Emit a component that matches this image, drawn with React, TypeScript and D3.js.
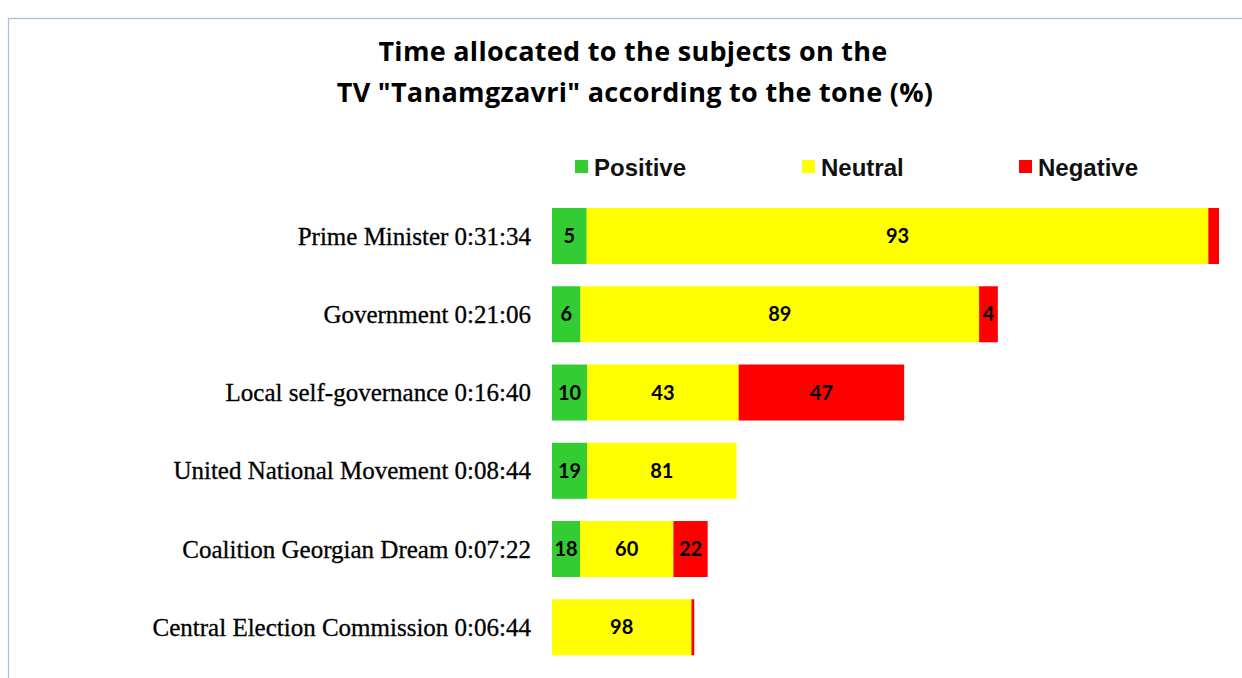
import React, { useRef, useEffect } from 'react';
import * as d3 from 'd3';

// subjects and their total airtime
const categories = [
  'Prime Minister',
  'Government',
  'Local self-governance',
  'United National Movement',
  'Coalition Georgian Dream',
  'Central Election Commission',
];
const durations = ['0:31:34', '0:21:06', '0:16:40', '0:08:44', '0:07:22', '0:06:44'];

// share of the airtime by tone (%)
const positive = [5.2, 6.4, 10, 19, 18, 0];
const neutral = [93.2, 89.4, 43, 81, 60, 98];
const negative = [1.6, 4.2, 47, 0, 22, 2];

const seriesNames = ['Positive', 'Neutral', 'Negative'];
const seriesColors = ['#33cc33', '#ffff00', '#ff0000'];

const width = 1242;
const height = 678;

const toSeconds = (t: string) => {
  const [h, m, s] = t.split(':').map(Number);
  return h * 3600 + m * 60 + s;
};

const App = () => {
  const container = useRef<SVGSVGElement | null>(null);

  useEffect(() => {
    if (!container.current) return;
    const svg = d3.select(container.current);
    svg.selectAll('*').remove();

    svg.append('rect').attr('width', width).attr('height', height).attr('fill', '#fff');

    // chart frame (only top and left edges are inside the picture)
    svg.append('rect')
      .attr('x', 8.5).attr('y', 18.5)
      .attr('width', width).attr('height', height)
      .attr('fill', 'none')
      .attr('stroke', '#a9c0dc')
      .attr('stroke-width', 1.3);

    // title
    const title = svg.append('text')
      .attr('text-anchor', 'middle')
      .style('font-family', '"Open Sans", sans-serif')
      .style('font-weight', 'bold')
      .style('font-size', '27px')
      .style('letter-spacing', '0.3px')
      .attr('fill', '#000');
    title.append('tspan').attr('x', 633).attr('y', 61).text('Time allocated to the subjects on the');
    title.append('tspan').attr('x', 635).attr('y', 102).text('TV "Tanamgzavri" according to the tone (%)');

    // legend
    const legendX = [575, 802, 1019];
    const legend = svg.append('g');
    seriesNames.forEach((name, i) => {
      legend.append('rect')
        .attr('x', legendX[i]).attr('y', 160)
        .attr('width', 13).attr('height', 13)
        .attr('fill', seriesColors[i]);
      legend.append('text')
        .attr('x', legendX[i] + 19).attr('y', 176)
        .style('font-family', '"Liberation Sans", Arial, sans-serif')
        .style('font-weight', 'bold')
        .style('font-size', '24px')
        .attr('fill', '#111')
        .text(name);
    });

    const seconds = durations.map(toSeconds);

    const x = d3.scaleLinear()
      .domain([0, d3.max(seconds) as number])
      .range([552, 1219]);

    const y = d3.scaleBand<string>()
      .domain(categories)
      .range([196.9, 666.4])
      .paddingInner(0.284)
      .paddingOuter(0.142);

    const rows = categories.map((c, i) => {
      const shares = [positive[i], neutral[i], negative[i]];
      const total = d3.sum(shares);
      let acc = 0;
      const segs = shares.map((v, k) => {
        const start = acc;
        acc += (v / total) * seconds[i];
        return { key: k, value: v, x0: start, x1: acc };
      });
      return { category: c, label: `${c} ${durations[i]}`, segs };
    });

    const bars = svg.append('g');
    rows.forEach(row => {
      const g = bars.append('g');
      g.selectAll('rect')
        .data(row.segs.filter(s => s.value > 0))
        .enter()
        .append('rect')
        .attr('x', d => x(d.x0))
        .attr('y', y(row.category) as number)
        .attr('width', d => x(d.x1) - x(d.x0))
        .attr('height', y.bandwidth())
        .attr('fill', d => seriesColors[d.key]);

      g.selectAll('text')
        .data(row.segs.filter(s => s.value >= 3))
        .enter()
        .append('text')
        .attr('x', d => (x(d.x0) + x(d.x1)) / 2)
        .attr('y', (y(row.category) as number) + y.bandwidth() / 2)
        .attr('dy', '0.36em')
        .attr('text-anchor', 'middle')
        .style('font-family', 'Lato, sans-serif')
        .style('font-weight', 'bold')
        .style('font-size', '20px')
        .attr('fill', '#000')
        .text(d => Math.round(d.value));
    });

    // category labels
    svg.append('g')
      .selectAll('text')
      .data(rows)
      .enter()
      .append('text')
      .attr('x', 531)
      .attr('y', d => (y(d.category) as number) + y.bandwidth() / 2)
      .attr('dy', '0.34em')
      .attr('text-anchor', 'end')
      .style('font-family', '"Liberation Serif", serif')
      .style('font-size', '25px')
      .attr('fill', '#000')
      .attr('stroke', '#000')
      .attr('stroke-width', 0.3)
      .text(d => d.label);
  }, []);

  return (
    <svg
      ref={container}
      width={width}
      height={height}
      style={{ position: 'absolute', left: 0, top: 0 }}
    />
  );
};

export default App;
